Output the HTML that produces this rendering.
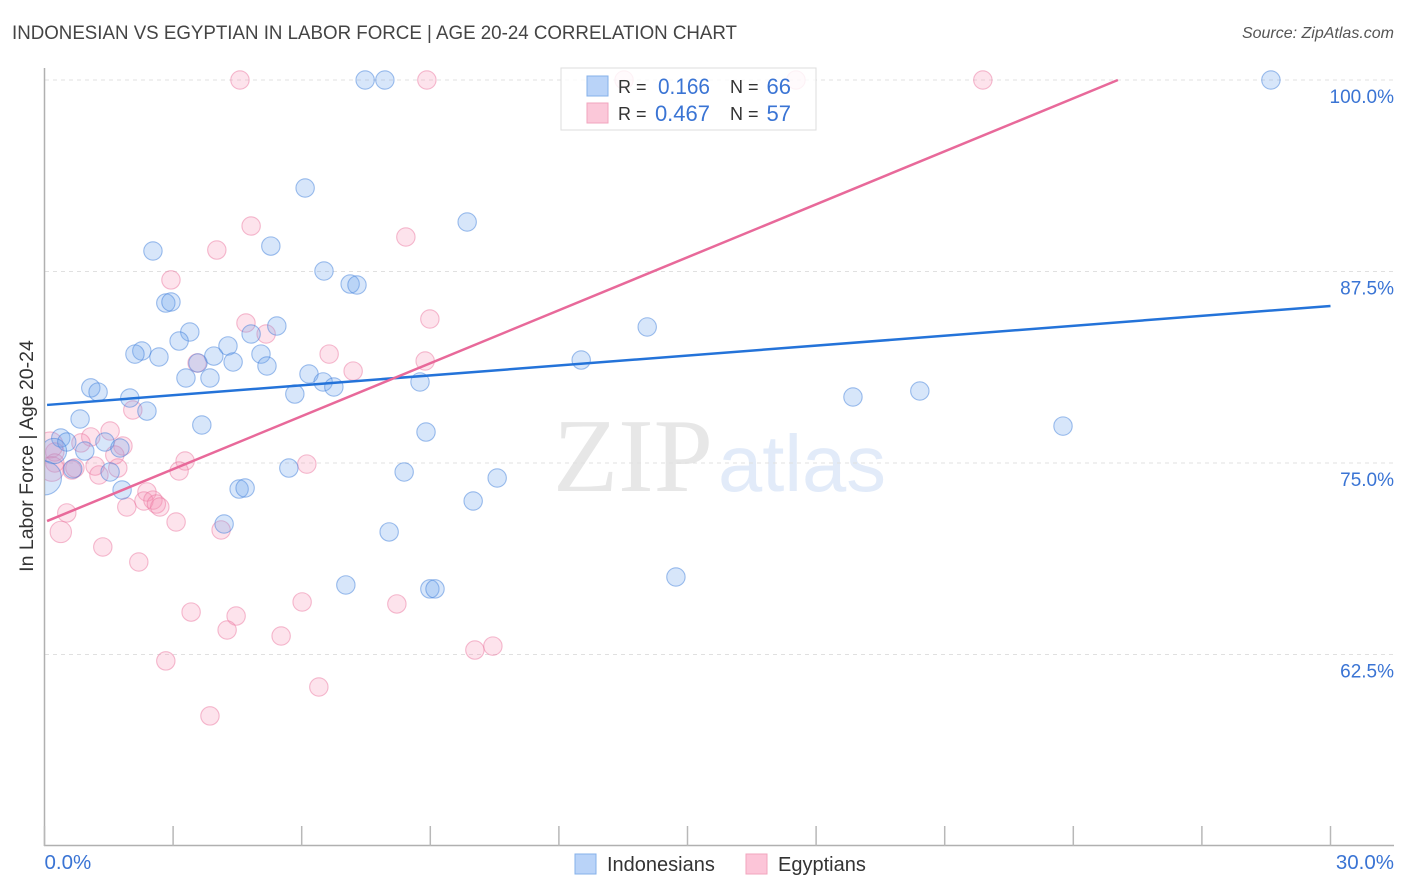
<!DOCTYPE html>
<html lang="en">
<head>
<meta charset="utf-8">
<title>Indonesian vs Egyptian in Labor Force | Age 20-24 Correlation Chart</title>
<style>
html,body{margin:0;padding:0;background:#fff;}
body{width:1406px;height:892px;overflow:hidden;}
svg{display:block;font-family:"Liberation Sans",sans-serif;}
</style>
</head>
<body>
<svg id="chart" width="1406" height="892" viewBox="0 0 1406 892">
  <defs>
    <clipPath id="plot-clip"><rect x="45" y="60" width="1349" height="786"></rect></clipPath>
  </defs>
  <rect x="0" y="0" width="1406" height="892" fill="#ffffff"></rect>
  <text x="12" y="39" font-size="19" fill="#444444" textLength="725" lengthAdjust="spacingAndGlyphs">INDONESIAN VS EGYPTIAN IN LABOR FORCE | AGE 20-24 CORRELATION CHART</text>
  <text x="1394" y="38" font-size="16" font-style="italic" fill="#555555" text-anchor="end">Source: ZipAtlas.com</text>

  <g>
    <text x="553" y="491" font-family="'Liberation Serif',serif" font-size="105" fill="#e7e7e7" textLength="160" lengthAdjust="spacingAndGlyphs">ZIP</text>
    <text x="718" y="491" font-size="80" fill="#e2ebf9" textLength="168" lengthAdjust="spacingAndGlyphs">atlas</text>
  </g>

  <g id="grid-layer"></g>
  <g id="axis-layer"></g>
  <g id="points-layer" clip-path="url(#plot-clip)"></g>
  <g id="trend-layer"></g>

  <g>
    <rect x="561" y="68" width="255" height="62" fill="#ffffff" fill-opacity="0.82" stroke="#dddddd" stroke-width="1"></rect>
    <rect x="587" y="76" width="21" height="20" fill="#b9d3f8" stroke="#85b0ea" stroke-width="1"></rect>
    <rect x="587" y="103" width="21" height="20" fill="#fbc8d9" stroke="#f2a5be" stroke-width="1"></rect>
    <text x="618" y="93" font-size="18" fill="#333333">R =</text>
    <text x="710" y="94" font-size="22" fill="#3a74d4" text-anchor="end" textLength="52" lengthAdjust="spacingAndGlyphs">0.166</text>
    <text x="730" y="93" font-size="18" fill="#333333">N =</text>
    <text x="791" y="94" font-size="22" fill="#3a74d4" text-anchor="end">66</text>
    <text x="618" y="120" font-size="18" fill="#333333">R =</text>
    <text x="710" y="121" font-size="22" fill="#3a74d4" text-anchor="end">0.467</text>
    <text x="730" y="120" font-size="18" fill="#333333">N =</text>
    <text x="791" y="121" font-size="22" fill="#3a74d4" text-anchor="end">57</text>
  </g>

  <g>
    <rect x="575" y="854" width="21" height="20" fill="#b9d3f8" stroke="#85b0ea" stroke-width="1"></rect>
    <text x="607" y="871" font-size="20" fill="#333333">Indonesians</text>
    <rect x="746" y="854" width="21" height="20" fill="#fcc5d8" stroke="#f2a5be" stroke-width="1"></rect>
    <text x="778" y="871" font-size="20" fill="#333333">Egyptians</text>
  </g>

  <text transform="translate(33,456) rotate(-90)" font-size="19.5" fill="#333333" text-anchor="middle">In Labor Force | Age 20-24</text>
</svg>

<script>
const yTickValues = [100, 87.5, 75, 62.5];
const yTickLabels = ["100.0%", "87.5%", "75.0%", "62.5%"];
const xTickValues = [0, 3, 6, 9, 12, 15, 18, 21, 24, 27, 30];
const xEndValues = [0, 30];
const xEndLabels = ["0.0%", "30.0%"];

const indonesianX = [28.61,7.48,7.94,6.08,9.86,2.53,5.28,6.52,7.13,7.29,2.83,2.95,5.42,14.06,3.39,4.82,3.14,4.28,2.27,2.11,2.67,3.95,5.05,3.58,4.40,5.19,12.52,6.17,3.30,3.86,6.50,6.75,8.76,1.08,1.25,5.84,1.99,18.86,20.42,2.39,0.83,3.67,23.76,8.90,0.38,0.52,1.41,1.76,0.94,0.22,0.66,1.53,5.70,8.39,10.56,1.81,4.54,4.68,10.00,4.19,8.04,7.03,14.73,8.99,9.11,0.00];
const indonesianY = [100,100,100,92.95,90.73,88.84,89.16,87.53,86.68,86.62,85.44,85.51,83.94,83.88,83.55,83.42,82.96,82.64,82.31,82.11,81.92,81.98,82.11,81.53,81.59,81.33,81.72,80.81,80.55,80.55,80.29,79.96,80.29,79.90,79.63,79.50,79.24,79.31,79.70,78.39,77.87,77.48,77.41,77.02,76.63,76.37,76.37,75.98,75.78,75.78,74.61,74.41,74.67,74.41,74.02,73.24,73.30,73.37,72.52,71.02,70.50,67.04,67.56,66.78,66.78,74.02];
const indonesianWeight = [1,1,1,1,1,1,1,1,1,1,1,1,1,1,1,1,1,1,1,1,1,1,1,1,1,1,1,1,1,1,1,1,1,1,1,1,1,1,1,1,1,1,1,1,1,1,1,1,1,1.9,1,1,1,1,1,1,1,1,1,1,1,1,1,1,1,3.4];

const egyptianX = [4.56,8.92,13.52,17.53,21.89,4.82,8.43,4.02,2.95,8.99,4.70,5.17,6.64,8.88,3.56,7.20,2.06,1.53,1.08,0.85,1.83,1.64,0.24,0.13,0.24,0.17,0.64,0.71,1.18,1.27,1.71,3.28,3.14,6.12,2.39,2.32,2.53,2.61,2.69,1.92,0.52,0.38,3.07,4.12,1.36,2.20,6.01,8.22,3.42,4.47,4.26,5.52,10.46,10.04,2.83,6.40,3.86];
const egyptianY = [100,100,100,100,100,90.47,89.75,88.90,86.95,84.40,84.14,83.42,82.11,81.66,81.53,81.00,78.46,77.09,76.70,76.31,76.11,75.52,75.72,76.18,75.00,74.61,74.54,74.67,74.80,74.22,74.67,75.13,74.48,74.93,73.11,72.52,72.58,72.32,72.13,72.13,71.74,70.50,71.15,70.63,69.52,68.54,65.93,65.80,65.27,65.01,64.10,63.71,63.05,62.79,62.08,60.38,58.49];
const egyptianWeight = [1,1,1,1,1,1,1,1,1,1,1,1,1,1,1,1,1,1,1,1,1,1,1,2,1,1.8,1,1,1,1,1,1,1,1,1,1,1,1,1,1,1,1.35,1,1,1,1,1,1,1,1,1,1,1,1,1,1,1];

const indonesianTrendX = [0.06, 30];
const indonesianTrendY = [78.79, 85.25];
const egyptianTrendX = [0.06, 25.04];
const egyptianTrendY = [71.21, 100];

const svg = document.getElementById('chart');
const NS = svg.namespaceURI;

function xScale(v) { return 44.5 + v * (1286 / 30); }
function yScale(v) { return 80 + (100 - v) * (191.5 / 12.5); }
function radius(w) { return 9.2 * Math.sqrt(w); }

function make(tag, attrs, parent) {
  const el = document.createElementNS(NS, tag);
  for (const k in attrs) el.setAttribute(k, attrs[k]);
  parent.appendChild(el);
  return el;
}

const gridLayer = document.getElementById('grid-layer');
const axisLayer = document.getElementById('axis-layer');
const pointsLayer = document.getElementById('points-layer');
const trendLayer = document.getElementById('trend-layer');

yTickValues.forEach(function (v, i) {
  const line = make('line', {x1: 45, x2: 1394, y1: yScale(v), y2: yScale(v), stroke: '#e0e0e0', 'stroke-width': 1, 'stroke-dasharray': '4 4'}, gridLayer);
  
  
  const label = make('text', {x: 1394, y: yScale(v) + 23, 'font-size': 19, fill: '#3a74d4', 'text-anchor': 'end'}, axisLayer);
  
  
  label.textContent = yTickLabels[i];
});

const yAxisLine = make('line', {x1: 44.5, x2: 44.5, y1: 68, y2: 846, stroke: '#b0b0b0', 'stroke-width': 1.5}, axisLayer);



const xAxisLine = make('line', {x1: 44, x2: 1394, y1: 845.5, y2: 845.5, stroke: '#b0b0b0', 'stroke-width': 1.5}, axisLayer);



xTickValues.forEach(function (v) {
  const tick = make('line', {x1: xScale(v), x2: xScale(v), y1: 826, y2: 846, stroke: '#b8b8b8', 'stroke-width': 1.5}, axisLayer);
  
  
});

xEndValues.forEach(function (v, i) {
  const label = make('text', {x: i === 0 ? xScale(v) : 1394, y: 869, 'font-size': 20.5, fill: '#3a74d4', 'text-anchor': i === 0 ? 'start' : 'end'}, axisLayer);
  
  
  label.textContent = xEndLabels[i];
});

egyptianX.forEach(function (v, i) {
  const c = make('circle', {cx: xScale(v), cy: yScale(egyptianY[i]), r: radius(egyptianWeight[i]), fill: '#f78fb3', 'fill-opacity': 0.25, stroke: '#ec7aa2', 'stroke-opacity': 0.5, 'stroke-width': 1.1}, pointsLayer);
  
  
});

indonesianX.forEach(function (v, i) {
  const c = make('circle', {cx: xScale(v), cy: yScale(indonesianY[i]), r: radius(indonesianWeight[i]), fill: '#6ea6ee', 'fill-opacity': 0.28, stroke: '#3a7cd9', 'stroke-opacity': 0.48, 'stroke-width': 1.1}, pointsLayer);
  
  
});

const blueTrend = make('line', {x1: xScale(indonesianTrendX[0]), y1: yScale(indonesianTrendY[0]), x2: xScale(indonesianTrendX[1]), y2: yScale(indonesianTrendY[1]), stroke: '#2473d9', 'stroke-width': 2.5}, trendLayer);



const pinkTrend = make('line', {x1: xScale(egyptianTrendX[0]), y1: yScale(egyptianTrendY[0]), x2: xScale(egyptianTrendX[1]), y2: yScale(egyptianTrendY[1]), stroke: '#e8699a', 'stroke-width': 2.5}, trendLayer);


</script>
</body>
</html>
